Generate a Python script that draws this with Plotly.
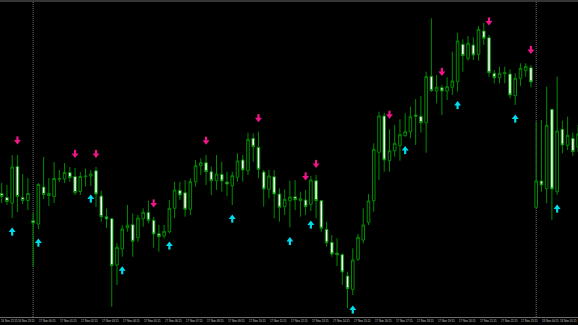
import plotly.graph_objects as go

# ---- data (M15 bars, price in points) ----
bars = list(range(111))
opens = [126.5,122.5,117,153.5,122.5,119.5,99.5,96,133,124.5,
         123.5,140.7,141,147.5,143.5,128.5,143.3,144,149.3,124,
         103.3,101.3,55,71,92.3,95.3,82.3,101.3,107.7,99.7,
         86.3,84,88.3,111.7,129.7,127.3,110.7,138.3,154.3,157.3,
         148.3,139.3,145.7,138,134.3,142.7,160,149.3,181.7,172.7,
         148,130.7,143.3,126,113.3,119.3,123.3,119.3,120,115.7,
         139.3,119.3,90.7,77.7,66.7,65.3,44,30.7,60.7,80,
         97.7,119.3,167.7,204,159.3,169.3,174.3,184.3,188.3,205,
         203.7,197.3,243.7,229,232.3,229,232.7,238.3,275.7,261.7,
         275,265.7,289,282.3,246.7,242.3,246.3,246,224.3,241.7,
         249.3,252.3,112.7,139,131.3,210.7,128.3,190.7,174.7,181.7,
         173]
highs = [137,135,165,165,146,142,107,137,163,142,
         158,150,157,153,152,148,151.5,150,153,129.3,
         111.5,102,76.7,95,115,106.7,105,111.7,119.3,103.3,
         95,95,120,138.3,138.3,140,141.7,160,161.7,165,
         153.3,165,158.3,148.3,148.3,166.7,165,187.3,186.7,188.3,
         150,150,150,131.7,130.7,139.3,140,128.3,130,144,
         145,120,98.3,85,81.7,66.7,48.3,71.7,86,111.7,
         126,176.7,208.3,207.3,190.7,195,200.7,206.7,213.3,221,
         224,248.3,301.7,245,235,242.7,268.3,287.3,280.7,284,
         282.7,294,297.3,285,250,253.3,253.3,250.7,246.7,256.7,
         256.7,255,198.3,200,233.3,211,243.3,199.3,203.3,187.3,
         195]
lows = [117,115,102,108,116,110,53,91,121,114,
        117,138,137,138,125,125,133.5,134,113,98.3,
        92,13.3,35,63.3,88.3,63.3,78.3,93.3,96.7,72.3,
        68.3,81.7,86.7,101.7,120,103.3,105,133.3,145,135,
        125,130,128.3,124,115,138.3,138.3,145,158.3,141.7,
        113.3,121.7,101.7,98.3,105,92.7,110,103.3,105,109,
        101.7,88.3,73.3,63.3,54,35,11.7,25,59.3,76.7,
        95,108.3,140,148.3,148.3,163.3,159.3,183.3,181.7,175,
        187.3,167.3,228.3,216.7,205,220,225,228.3,248.3,259.3,
        260,259.3,275,243.3,236.7,236.7,236.7,221.7,215,234,
        243.3,232.7,112,128.3,116.7,100,125,166.7,170,164,
        168]
closes = [123.5,118.5,153,123.5,119.5,126.5,97,135.5,125.5,126.5,
          141.5,141.5,147.5,142.3,127.5,143.5,143.8,146,126,103.3,
          101,54.3,72.7,91,94.7,78.7,102,107.7,99.7,86,
          83.3,88.7,111.7,130,125,110.7,138.3,154.3,157.3,148.3,
          139.3,146,139,136,144.3,159,150,180.7,173.3,150.7,
          131,144,126,112.7,120.7,123,120.3,121.3,113.3,140,
          119.3,91.7,77.3,66,65.3,48,31.3,60,82.7,95,
          119,170.7,204,160,169.3,176.7,185.3,188.3,203.3,203.7,
          197.3,243.3,229.3,232.7,229,233.3,239,279,264.3,276.7,
          265,290.7,281.7,247.3,242.3,246.7,247.3,225,241.7,251.7,
          253.7,238,139,135,194.7,131,189,175,184.7,168.3,
          186]

# signal arrows
down_bars = [3, 14, 18, 29, 39, 49, 58, 60, 74, 84, 93, 101]
down_vals = [179, 165.5, 165.5, 116, 178.7, 201.3, 143, 155.5, 204.7, 247.5, 298, 269.5]
up_bars = [2, 7, 17, 23, 32, 44, 55, 59, 67, 77, 87, 98, 106]
up_vals = [89, 78, 122, 50.3, 75, 102, 79.5, 96, 11, 170.5, 215.5, 202, 112]

# day separators and time labels
separator_bars = [6, 102]
label_bars = [-0.32, 3, 7, 11, 15, 19, 23, 27, 31, 35, 39, 43, 47, 51, 55,
              59, 63, 67, 71, 75, 79, 83, 87, 91, 95, 99, 103, 106.4]
label_texts = ["16 Nov 22:15", "16 Nov 23:15", "17 Nov 00:15", "17 Nov 01:15",
               "17 Nov 02:15", "17 Nov 03:15", "17 Nov 04:15", "17 Nov 05:15",
               "17 Nov 06:15", "17 Nov 07:15", "17 Nov 08:15", "17 Nov 09:15",
               "17 Nov 10:15", "17 Nov 11:15", "17 Nov 12:15", "17 Nov 13:15",
               "17 Nov 14:15", "17 Nov 15:15", "17 Nov 16:15", "17 Nov 17:15",
               "17 Nov 18:15", "17 Nov 19:15", "17 Nov 20:15", "17 Nov 21:15",
               "17 Nov 22:15", "17 Nov 23:15", "18 Nov 00:15", "18 Nov 01:15"]

GREEN = "#008c00"
PINK = "#f0168a"
CYAN = "#00dcec"

fig = go.Figure()

fig.add_trace(go.Candlestick(
    x=bars, open=opens, high=highs, low=lows, close=closes,
    increasing=dict(line=dict(color=GREEN, width=1), fillcolor="#000000"),
    decreasing=dict(line=dict(color=GREEN, width=1), fillcolor="#ffffff"),
    whiskerwidth=0, hoverinfo="skip", showlegend=False,
))

# down arrows: stem above, head below
fig.add_trace(go.Scatter(x=down_bars, y=[v + 2.5 for v in down_vals], mode="markers",
                         marker=dict(symbol="line-ns", size=3, line=dict(color=PINK, width=2.2)),
                         hoverinfo="skip", showlegend=False))
fig.add_trace(go.Scatter(x=down_bars, y=[v - 0.5 for v in down_vals], mode="markers",
                         marker=dict(symbol="triangle-down", size=6, color=PINK, line=dict(width=0)),
                         hoverinfo="skip", showlegend=False))
# up arrows: head above, stem below
fig.add_trace(go.Scatter(x=up_bars, y=[v - 2.5 for v in up_vals], mode="markers",
                         marker=dict(symbol="line-ns", size=3, line=dict(color=CYAN, width=2.2)),
                         hoverinfo="skip", showlegend=False))
fig.add_trace(go.Scatter(x=up_bars, y=[v + 0.5 for v in up_vals], mode="markers",
                         marker=dict(symbol="triangle-up", size=6, color=CYAN, line=dict(width=0)),
                         hoverinfo="skip", showlegend=False))

shapes = []
for b in separator_bars:
    shapes.append(dict(type="line", xref="x", yref="paper", x0=b, x1=b, y0=0, y1=1,
                       line=dict(color="#707070", width=1, dash="1px,1px"), layer="below"))
shapes.append(dict(type="rect", xref="paper", yref="paper", x0=0, x1=1, y0=0.994, y1=1,
                   fillcolor="#353535", line=dict(width=0)))

annotations = []
for b, t in zip(label_bars, label_texts):
    annotations.append(dict(x=b, y=0, xref="x", yref="paper", text=t, showarrow=False,
                            xanchor="left", yanchor="top", yshift=-1, borderpad=0,
                            font=dict(family="Liberation Sans", size=2.8, color="#c8c8c8")))

fig.update_layout(
    width=578, height=325,
    margin=dict(l=0, r=0, t=0, b=8),
    paper_bgcolor="#000000", plot_bgcolor="#000000",
    showlegend=False,
    shapes=shapes, annotations=annotations,
    xaxis=dict(range=[-0.324, 109.98], showgrid=False, zeroline=False,
               showticklabels=False, ticks="", showline=True, linecolor="#6a6a6a",
               linewidth=1, rangeslider=dict(visible=False), fixedrange=True),
    yaxis=dict(range=[3, 320], showgrid=False, zeroline=False, showticklabels=False,
               ticks="", showline=False, fixedrange=True),
)

fig.write_html("out.html")
